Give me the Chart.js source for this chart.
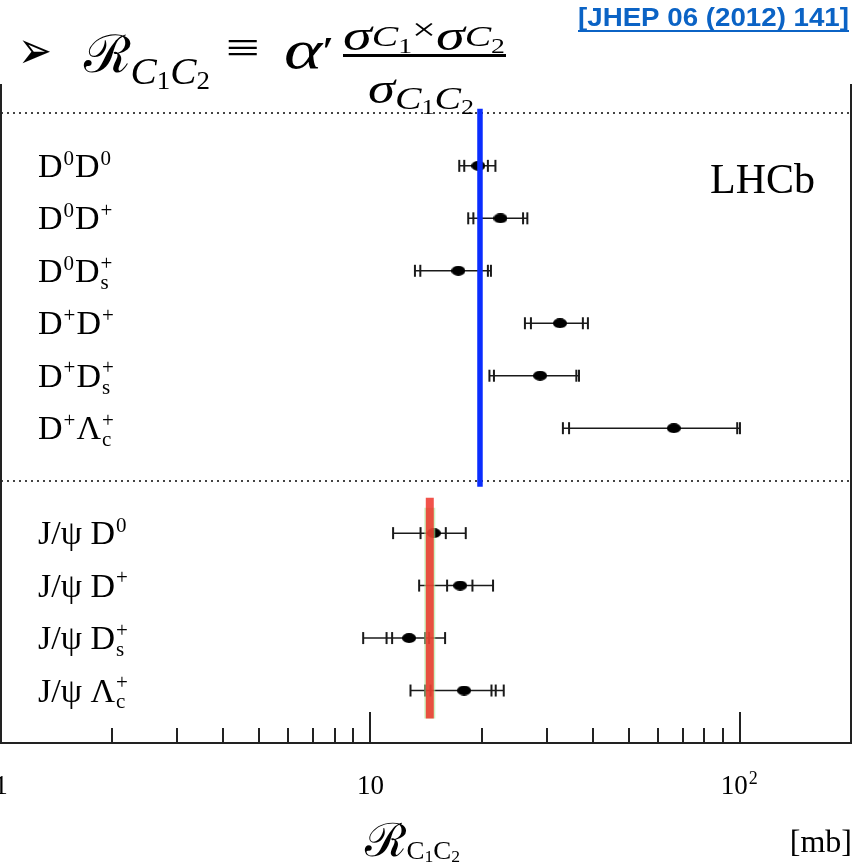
<!DOCTYPE html>
<html>
<head>
<meta charset="utf-8">
<script src="https://cdn.jsdelivr.net/npm/chart.js@4.4.1/dist/chart.umd.min.js"></script>
<style>
  html, body { margin: 0; padding: 0; background: #fff; }
  #chart { display: block; }
</style>
</head>
<body>
<canvas id="chart" width="862" height="864"></canvas>
<script>
// pair labels, top group (open charm pairs) then J/psi + charm
const labels = [
  'D^{0}D^{0}', 'D^{0}D^{+}', 'D^{0}D_{s}^{+}', 'D^{+}D^{+}', 'D^{+}D_{s}^{+}', 'D^{+}\u039B_{c}^{+}',
  'J/\u03C8 D^{0}', 'J/\u03C8 D^{+}', 'J/\u03C8 D_{s}^{+}', 'J/\u03C8 \u039B_{c}^{+}'
];
// row of each pair on the (hidden) y axis, one empty row between the groups
const rows = [0, 1, 2, 3, 4, 5, 7, 8, 9, 10];
// R_C1C2 in mb
const values = [19.6, 22.5, 17.3, 32.6, 28.8, 66.3, 14.85, 17.5, 12.73, 17.93];
// error bar ends (stat, syst, ...) below and above the value
const lowTicks = [
  [17.95, 17.4], [19.0, 18.4], [13.65, 13.2], [27.2, 26.2], [21.6, 21.0], [34.5, 33.2],
  [13.67, 11.52], [16.13, 13.55], [11.45, 11.06, 9.56], [14.55, 14.07, 12.84]
];
const highTicks = [
  [20.8, 21.8], [25.9, 26.6], [20.8, 21.2], [37.6, 38.8], [36.1, 36.7], [98.4, 100.1],
  [16.0, 18.12], [18.89, 21.48], [14.07, 14.42, 15.93], [21.27, 21.84, 22.96]
];
// reference values: blue for DD pairs, red for J/psi D pairs
const ddRef = 19.8;
const ddRefRows = [-1.086, 6.114];
const jpsiRef = 14.48;
const jpsiRefRows = [6.324, 10.533];
const jpsiEdgeRows = [6.514, 10.533];
const separatorRows = [-1, 6];

const majorTicks = [1, 10, 100];
const majorTickLabels = ['1', '10', '10^{2}'];
const minorTicks = [2, 3, 4, 5, 6, 7, 8, 9, 20, 30, 40, 50, 60, 70, 80, 90];

const SERIF = '"Liberation Serif", "DejaVu Serif", serif';
const I = 'italic ';

function parseRich(s) {
  const out = [];
  let buf = '';
  let i = 0;
  while (i < s.length) {
    const c = s[i];
    if ((c === '^' || c === '_') && s[i + 1] === '{') {
      if (buf) { out.push({ k: 'n', t: buf }); buf = ''; }
      const end = s.indexOf('}', i);
      out.push({ k: c === '^' ? 'sup' : 'sub', t: s.slice(i + 2, end) });
      i = end + 1;
    } else {
      buf += c;
      i++;
    }
  }
  if (buf) out.push({ k: 'n', t: buf });
  return out;
}

// draws text with ^{} and _{} parts, sub+sup stacked
function drawRich(ctx, s, x, y, size, align, subSize) {
  const parts = parseRich(s);
  const small = subSize || Math.round(size * 0.58);
  const placed = [];
  let w = 0;
  for (let i = 0; i < parts.length; i++) {
    const p = parts[i];
    if (p.k === 'n') {
      ctx.font = size + 'px ' + SERIF;
      placed.push({ p, dx: w });
      w += ctx.measureText(p.t).width;
    } else {
      ctx.font = small + 'px ' + SERIF;
      let pw = ctx.measureText(p.t).width;
      placed.push({ p, dx: w + 1 });
      const q = parts[i + 1];
      if (q && q.k !== 'n' && q.k !== p.k) {
        pw = Math.max(pw, ctx.measureText(q.t).width);
        placed.push({ p: q, dx: w + 1 });
        i++;
      }
      w += pw + 2;
    }
  }
  const x0 = align === 'center' ? x - w / 2 : align === 'right' ? x - w : x;
  ctx.textAlign = 'left';
  ctx.textBaseline = 'alphabetic';
  placed.forEach(({ p, dx }) => {
    if (p.k === 'n') {
      ctx.font = size + 'px ' + SERIF;
      ctx.fillText(p.t, x0 + dx, y);
    } else {
      ctx.font = small + 'px ' + SERIF;
      ctx.fillText(p.t, x0 + dx, y + (p.k === 'sup' ? -size * 0.36 : size * 0.2));
    }
  });
}

// pieces: [text, font, baseline], stretched to fit between x0 and x1
function chain(ctx, pieces, x0, x1) {
  let w = 0;
  const xs = [];
  pieces.forEach(p => {
    ctx.font = p[1];
    xs.push(w);
    w += ctx.measureText(p[0]).width;
  });
  ctx.save();
  ctx.translate(x0, 0);
  ctx.scale((x1 - x0) / w, 1);
  pieces.forEach((p, i) => {
    ctx.font = p[1];
    ctx.fillText(p[0], xs[i], p[2]);
  });
  ctx.restore();
}

const decor = {
  id: 'decor',
  beforeDatasetsDraw(chart) {
    const { ctx, chartArea: a, scales: { x, y } } = chart;
    ctx.save();

    // dotted separators
    ctx.strokeStyle = '#444';
    ctx.lineWidth = 2;
    ctx.setLineDash([2, 4]);
    separatorRows.forEach(r => {
      const py = Math.round(y.getPixelForValue(r));
      ctx.beginPath();
      ctx.moveTo(a.left, py);
      ctx.lineTo(a.right, py);
      ctx.stroke();
    });
    ctx.setLineDash([]);

    // error bars
    ctx.strokeStyle = '#1a1a1a';
    values.forEach((v, i) => {
      const py = y.getPixelForValue(rows[i]);
      const lo = Math.min(...lowTicks[i]);
      const hi = Math.max(...highTicks[i]);
      ctx.lineWidth = 1.5;
      ctx.beginPath();
      ctx.moveTo(x.getPixelForValue(lo), py);
      ctx.lineTo(x.getPixelForValue(hi), py);
      ctx.stroke();
      ctx.lineWidth = 2;
      lowTicks[i].concat(highTicks[i]).forEach(t => {
        const px = x.getPixelForValue(t);
        ctx.beginPath();
        ctx.moveTo(px, py - 6);
        ctx.lineTo(px, py + 6);
        ctx.stroke();
      });
    });

    // frame sides
    ctx.strokeStyle = '#222';
    ctx.lineWidth = 2;
    ctx.beginPath();
    ctx.moveTo(a.left, a.top);
    ctx.lineTo(a.left, a.bottom);
    ctx.moveTo(a.right, a.top);
    ctx.lineTo(a.right, a.bottom);
    ctx.stroke();

    // inward ticks on the x axis
    ctx.beginPath();
    minorTicks.forEach(t => {
      const px = Math.round(x.getPixelForValue(t));
      ctx.moveTo(px, a.bottom);
      ctx.lineTo(px, a.bottom - 15);
    });
    majorTicks.forEach(t => {
      const px = Math.round(x.getPixelForValue(t));
      ctx.moveTo(px, a.bottom);
      ctx.lineTo(px, a.bottom - 31);
    });
    ctx.stroke();

    // tick labels, row labels, axis title
    ctx.fillStyle = '#000';
    majorTicks.forEach((t, i) => {
      drawRich(ctx, majorTickLabels[i], x.getPixelForValue(t), a.bottom + 51, 27, 'center', 18);
    });
    labels.forEach((l, i) => {
      drawRich(ctx, l, 38, y.getPixelForValue(rows[i]) + 11, 34, 'left', 21);
    });
    ctx.textAlign = 'left';
    ctx.textBaseline = 'alphabetic';
    ctx.font = '42px ' + SERIF;
    ctx.fillText('LHCb', 710, 193);
    chain(ctx, [
      ['\u211B', '46px ' + SERIF, 856],
      ['C', '26px ' + SERIF, 859],
      ['1', '17px ' + SERIF, 862],
      ['C', '26px ' + SERIF, 859],
      ['2', '17px ' + SERIF, 862]
    ], 365, 460);
    ctx.textAlign = 'right';
    ctx.font = '32px ' + SERIF;
    ctx.fillText('[mb]', 852, 852);
    ctx.restore();
  },
  afterDraw(chart) {
    const ctx = chart.ctx;
    ctx.save();
    ctx.fillStyle = '#000';
    ctx.textAlign = 'left';
    ctx.textBaseline = 'alphabetic';
    chain(ctx, [['\u27A2', '52px "DejaVu Sans", sans-serif', 68]], 18, 52);
    chain(ctx, [
      ['\u211B', '52px ' + SERIF, 72],
      ['C', I + '38px ' + SERIF, 84],
      ['1', '26px ' + SERIF, 89],
      ['C', I + '38px ' + SERIF, 84],
      ['2', '26px ' + SERIF, 89]
    ], 84, 210);
    chain(ctx, [['\u2261', '46px ' + SERIF, 63]], 226, 260);
    chain(ctx, [['\u03B1', I + '54px ' + SERIF, 68], ['\u2032', '40px ' + SERIF, 64]], 284, 334);
    // numerator
    chain(ctx, [
      ['\u03C3', I + '44px ' + SERIF, 50],
      ['C', I + '30px ' + SERIF, 46],
      ['1', '21px ' + SERIF, 53],
      ['\u00D7', '32px ' + SERIF, 40],
      ['\u03C3', I + '44px ' + SERIF, 50],
      ['C', I + '30px ' + SERIF, 46],
      ['2', '21px ' + SERIF, 53]
    ], 343, 505);
    ctx.fillRect(343, 54, 163, 3);
    // denominator
    chain(ctx, [
      ['\u03C3', I + '44px ' + SERIF, 103],
      ['C', I + '32px ' + SERIF, 109],
      ['1', '21px ' + SERIF, 114],
      ['C', I + '32px ' + SERIF, 109],
      ['2', '21px ' + SERIF, 114]
    ], 368, 474);
    // reference link
    ctx.fillStyle = '#0b63c5';
    chain(ctx, [['[JHEP 06 (2012) 141]', 'bold 26px "Liberation Sans Narrow", "Liberation Sans", sans-serif', 26]], 578, 849);
    ctx.fillRect(578, 30, 271, 2);
    ctx.restore();
  }
};

const dot = document.createElement('canvas');
dot.width = 14;
dot.height = 10;
const dc = dot.getContext('2d');
dc.fillStyle = '#000';
dc.beginPath();
dc.ellipse(7, 5, 7, 5, 0, 0, Math.PI * 2);
dc.fill();

const points = values.map((v, i) => ({ x: v, y: rows[i] }));

new Chart(document.getElementById('chart'), {
  type: 'scatter',
  data: {
    datasets: [
      {
        data: ddRefRows.map(r => ({ x: ddRef, y: r })),
        showLine: true, borderColor: '#0a2dff', borderWidth: 5.5, pointRadius: 0, borderCapStyle: 'butt'
      },
      {
        data: jpsiRefRows.map(r => ({ x: jpsiRef, y: r })),
        showLine: true, borderColor: 'rgba(238, 45, 35, 0.82)', borderWidth: 8, pointRadius: 0
      },
      {
        data: jpsiEdgeRows.map(r => ({ x: jpsiRef, y: r })),
        showLine: true, borderColor: 'rgba(170, 235, 150, 0.6)', borderWidth: 11, pointRadius: 0
      },
      {
        data: points,
        pointStyle: dot, pointRadius: 7, showLine: false
      }
    ]
  },
  options: {
    responsive: false,
    animation: false,
    events: [],
    layout: { autoPadding: false, padding: { left: 1, right: 11, top: 84, bottom: 0 } },
    plugins: { legend: { display: false }, tooltip: { enabled: false } },
    scales: {
      x: {
        type: 'logarithmic',
        min: 1,
        max: 200,
        ticks: { display: false },
        grid: { display: false },
        border: { display: true, color: '#222', width: 2 },
        afterFit: s => { s.height = 121; }
      },
      y: {
        type: 'linear',
        min: -1.56,
        max: 11,
        reverse: true,
        display: false
      }
    }
  },
  plugins: [decor]
});
</script>
</body>
</html>
